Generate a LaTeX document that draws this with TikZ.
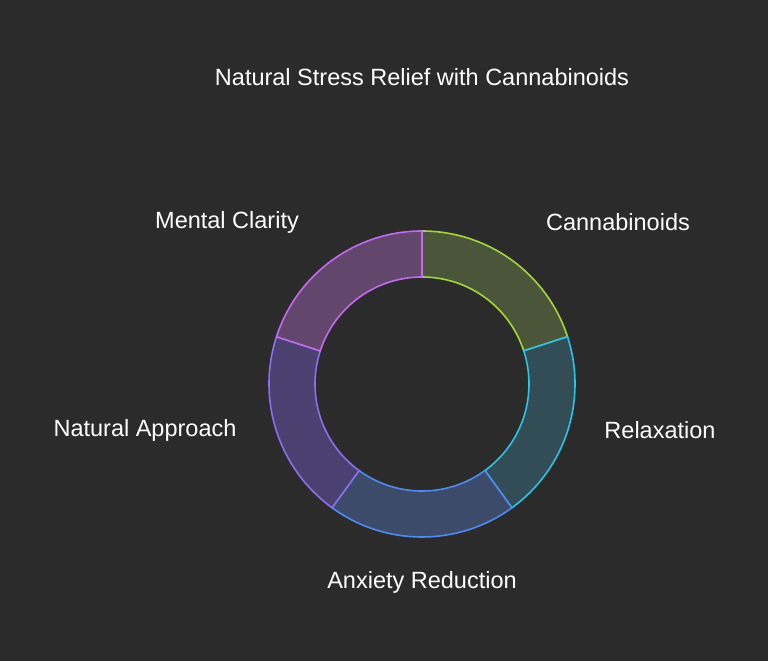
\documentclass[tikz,border=0pt]{standalone}
\usepackage{fontspec}
\setmainfont{Liberation Sans}
\usetikzlibrary{calc}
\definecolor{bg}{HTML}{2B2B2B}
\begin{document}
\begin{tikzpicture}[x=1pt,y=-1pt,
  lbl/.style={text=white,font=\fontsize{23.5}{26}\selectfont,inner sep=0pt},
  seg/.style={line width=1.6pt,line join=round}]
\fill[bg] (0,0) rectangle (768,661);
\useasboundingbox (0,0) rectangle (768,661);
\coordinate (c) at (422,384);
\def\R{153}\def\r{107}
\foreach \a/\sc/\fc in {90/A3D63A/4B5539, 18/2CC3E8/324D56, -54/4F8BEF/3C4B6A, -126/8B6EF0/4A4170, -198/C26AF0/62466B}{
  \definecolor{sc}{HTML}{\sc}\definecolor{fc}{HTML}{\fc}
  \pgfmathsetmacro{\b}{\a-72}
  \filldraw[seg,draw=sc,fill=fc] ($(c)+({cos(\a)*\R},{-sin(\a)*\R})$) arc[start angle=-\a,end angle=-\b,radius=\R]
     -- ($(c)+({cos(\b)*\r},{-sin(\b)*\r})$) arc[start angle=-\b,end angle=-\a,radius=\r] -- cycle;
}
\node[lbl] (t) at (422,77) {Natural Stress Relief with Cannabinoids};
\node[lbl] (l1) at (618,222) {Cannabinoids};
\node[lbl] (l2) at (660,430) {Relaxation};
\node[lbl] (l3) at (422,582) {Anxiety Reduction};
\node[lbl] (l4) at (145,430) {Natural Approach};
\node[lbl] (l5) at (227,222) {Mental Clarity};
\end{tikzpicture}
\end{document}
